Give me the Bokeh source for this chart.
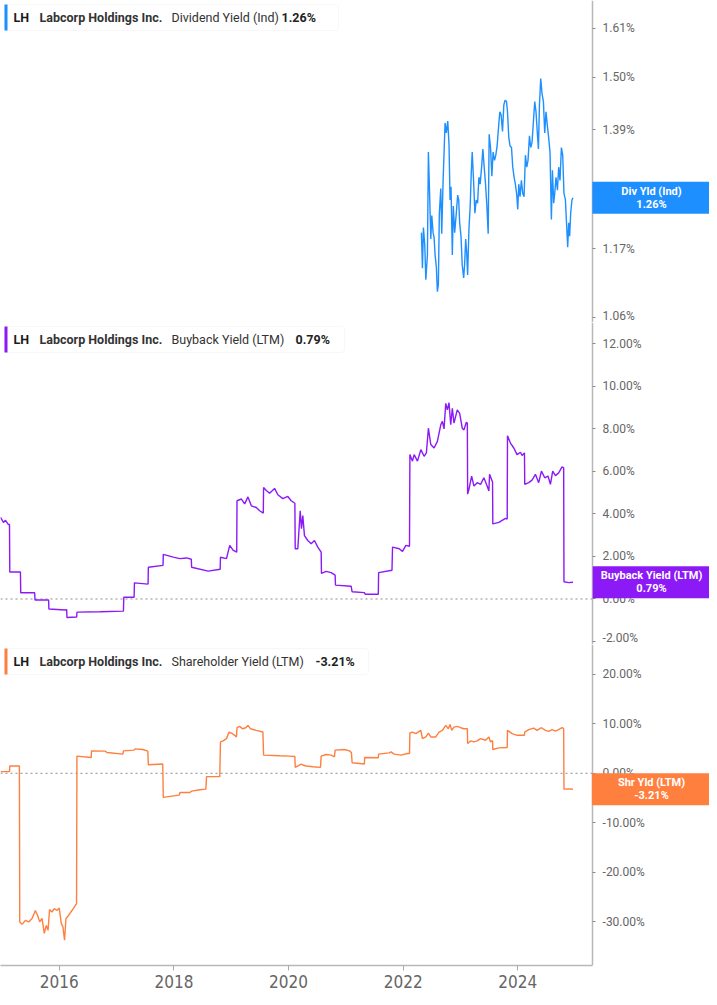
import datetime as dt
from bokeh.plotting import figure
from bokeh.layouts import column
from bokeh.models import (Range1d, FixedTicker, PrintfTickFormatter, DatetimeTickFormatter,
                          Label, BoxAnnotation)
from bokeh.embed import file_html
from bokeh.resources import INLINE

# ---------------- data (dates as decimal years, values in %) ----------------
DIV_DATES = [
    2022.318, 2022.336, 2022.353, 2022.377, 2022.395, 2022.423, 2022.440, 2022.464, 2022.482, 2022.499,
    2022.522, 2022.539, 2022.557, 2022.579, 2022.597, 2022.614, 2022.631, 2022.656, 2022.673, 2022.696,
    2022.731, 2022.753, 2022.778, 2022.800, 2022.818, 2022.835, 2022.858, 2022.875, 2022.899, 2022.927,
    2022.951, 2022.969, 2022.986, 2023.009, 2023.031, 2023.056, 2023.073, 2023.091, 2023.108, 2023.125,
    2023.148, 2023.170, 2023.188, 2023.205, 2023.230, 2023.252, 2023.275, 2023.299, 2023.322, 2023.344,
    2023.369, 2023.391, 2023.414, 2023.438, 2023.461, 2023.484, 2023.501, 2023.525, 2023.548, 2023.570,
    2023.595, 2023.617, 2023.640, 2023.664, 2023.687, 2023.710, 2023.734, 2023.757, 2023.779, 2023.804,
    2023.821, 2023.844, 2023.866, 2023.891, 2023.913, 2023.936, 2023.960, 2023.983, 2024.000, 2024.018,
    2024.040, 2024.064, 2024.087, 2024.110, 2024.134, 2024.157, 2024.179, 2024.204, 2024.226, 2024.249,
    2024.273, 2024.296, 2024.318, 2024.343, 2024.360, 2024.378, 2024.400, 2024.423, 2024.447, 2024.470,
    2024.492, 2024.517, 2024.539, 2024.562, 2024.586, 2024.604, 2024.626, 2024.644, 2024.666, 2024.691,
    2024.713, 2024.736, 2024.760, 2024.783, 2024.805, 2024.830, 2024.852, 2024.870, 2024.887, 2024.904,
    2024.922, 2024.944, 2024.962,
]
DIV_VALUES = [
    1.198, 1.138, 1.207, 1.176, 1.119, 1.160, 1.346, 1.256, 1.187, 1.228,
    1.198, 1.190, 1.160, 1.140, 1.100, 1.111, 1.232, 1.277, 1.196, 1.289,
    1.404, 1.384, 1.408, 1.361, 1.256, 1.280, 1.160, 1.245, 1.198, 1.232,
    1.265, 1.256, 1.215, 1.192, 1.143, 1.122, 1.145, 1.187, 1.165, 1.127,
    1.204, 1.245, 1.305, 1.346, 1.289, 1.232, 1.256, 1.250, 1.298, 1.285,
    1.317, 1.352, 1.317, 1.285, 1.245, 1.196, 1.381, 1.355, 1.300, 1.346,
    1.330, 1.340, 1.358, 1.394, 1.427, 1.420, 1.387, 1.441, 1.451, 1.448,
    1.427, 1.374, 1.358, 1.355, 1.317, 1.298, 1.284, 1.265, 1.239, 1.285,
    1.262, 1.292, 1.268, 1.262, 1.340, 1.317, 1.330, 1.378, 1.355, 1.365,
    1.407, 1.448, 1.427, 1.381, 1.352, 1.441, 1.497, 1.465, 1.448, 1.384,
    1.427, 1.397, 1.374, 1.346, 1.221, 1.311, 1.250, 1.268, 1.298, 1.274,
    1.317, 1.292, 1.355, 1.340, 1.268, 1.256, 1.209, 1.173, 1.215, 1.192,
    1.232, 1.256, 1.260,
]

BUY_DATES = [
    2014.974, 2015.026, 2015.061, 2015.113, 2015.131, 2015.136, 2015.322, 2015.327, 2015.571, 2015.576,
    2015.814, 2015.819, 2016.104, 2016.129, 2016.134, 2016.303, 2016.308, 2016.713, 2017.118, 2017.124,
    2017.304, 2017.310, 2017.548, 2017.553, 2017.809, 2017.814, 2017.988, 2018.104, 2018.221, 2018.303,
    2018.308, 2018.597, 2018.807, 2018.812, 2018.917, 2018.974, 2019.031, 2019.096, 2019.101, 2019.178,
    2019.235, 2019.292, 2019.351, 2019.438, 2019.496, 2019.560, 2019.565, 2019.612, 2019.670, 2019.757,
    2019.814, 2019.901, 2019.988, 2020.047, 2020.111, 2020.117, 2020.162, 2020.204, 2020.226, 2020.249,
    2020.278, 2020.336, 2020.395, 2020.452, 2020.510, 2020.569, 2020.574, 2020.656, 2020.743, 2020.812,
    2020.818, 2021.091, 2021.108, 2021.322, 2021.339, 2021.565, 2021.571, 2021.804, 2021.814, 2021.931,
    2021.988, 2022.047, 2022.110, 2022.117, 2022.162, 2022.191, 2022.249, 2022.308, 2022.365, 2022.405,
    2022.440, 2022.482, 2022.539, 2022.597, 2022.656, 2022.684, 2022.713, 2022.743, 2022.771, 2022.800,
    2022.830, 2022.858, 2022.887, 2022.944, 2022.986, 2023.031, 2023.061, 2023.101, 2023.120, 2023.125,
    2023.148, 2023.195, 2023.235, 2023.292, 2023.351, 2023.409, 2023.466, 2023.496, 2023.508, 2023.553,
    2023.560, 2023.565, 2023.670, 2023.786, 2023.816, 2023.821, 2023.873, 2023.931, 2023.988, 2024.047,
    2024.075, 2024.117, 2024.122, 2024.191, 2024.249, 2024.308, 2024.365, 2024.412, 2024.470, 2024.527,
    2024.569, 2024.609, 2024.656, 2024.713, 2024.771, 2024.800, 2024.805, 2024.887, 2024.962,
]
BUY_VALUES = [
    3.84, 3.60, 3.70, 3.50, 3.50, 1.27, 1.27, 0.29, 0.29, -0.05,
    -0.05, -0.47, -0.52, -0.50, -0.87, -0.85, -0.62, -0.60, -0.57, 0.08,
    0.08, 0.76, 0.70, 1.49, 1.58, 2.10, 1.97, 1.90, 1.93, 1.87,
    1.49, 1.31, 1.40, 1.96, 1.90, 2.52, 2.30, 2.20, 4.62, 4.70,
    4.47, 4.80, 4.38, 4.30, 4.15, 4.04, 5.24, 5.10, 4.97, 5.20,
    4.90, 4.72, 4.82, 4.62, 4.50, 2.36, 2.36, 4.15, 3.30, 3.92,
    2.98, 2.75, 2.60, 2.75, 2.44, 2.20, 1.20, 1.30, 1.24, 1.12,
    0.65, 0.60, 0.34, 0.30, 0.22, 0.22, 1.24, 1.35, 2.44, 2.36,
    2.24, 2.52, 2.48, 6.79, 6.48, 6.79, 6.48, 7.02, 6.71, 6.87,
    8.03, 7.26, 7.10, 7.41, 8.19, 8.35, 8.00, 9.20, 8.89, 9.23,
    8.19, 8.97, 8.27, 8.89, 8.73, 8.03, 7.95, 8.30, 8.27, 4.93,
    5.16, 5.78, 5.31, 5.47, 5.39, 5.70, 5.31, 5.08, 5.86, 5.55,
    5.50, 3.53, 3.60, 3.79, 3.76, 7.68, 7.33, 7.10, 6.79, 6.90,
    6.75, 6.87, 5.39, 5.47, 5.59, 5.86, 5.47, 6.01, 5.70, 5.78,
    5.39, 6.01, 5.80, 5.93, 6.21, 6.17, 0.81, 0.77, 0.79,
]

SHR_DATES = [
    2014.974, 2015.131, 2015.136, 2015.304, 2015.310, 2015.351, 2015.409, 2015.466, 2015.525, 2015.583,
    2015.623, 2015.658, 2015.699, 2015.739, 2015.774, 2015.804, 2015.831, 2015.873, 2015.913, 2015.960,
    2016.000, 2016.035, 2016.064, 2016.092, 2016.117, 2016.162, 2016.221, 2016.278, 2016.301, 2016.308,
    2016.557, 2016.562, 2016.800, 2016.830, 2017.108, 2017.118, 2017.304, 2017.322, 2017.456, 2017.543,
    2017.553, 2017.804, 2017.814, 2017.931, 2018.092, 2018.104, 2018.278, 2018.308, 2018.452, 2018.557,
    2018.569, 2018.800, 2018.812, 2018.858, 2018.917, 2018.962, 2019.004, 2019.061, 2019.091, 2019.101,
    2019.148, 2019.195, 2019.252, 2019.292, 2019.334, 2019.438, 2019.553, 2019.565, 2019.844, 2020.018,
    2020.111, 2020.117, 2020.191, 2020.221, 2020.249, 2020.308, 2020.423, 2020.557, 2020.569, 2020.656,
    2020.743, 2020.800, 2020.812, 2020.974, 2021.061, 2021.096, 2021.108, 2021.322, 2021.327, 2021.565,
    2021.571, 2021.757, 2021.786, 2021.844, 2021.960, 2022.075, 2022.110, 2022.117, 2022.162, 2022.221,
    2022.308, 2022.336, 2022.395, 2022.440, 2022.482, 2022.569, 2022.626, 2022.684, 2022.743, 2022.788,
    2022.818, 2022.847, 2022.887, 2022.944, 2023.004, 2023.061, 2023.120, 2023.125, 2023.178, 2023.235,
    2023.292, 2023.351, 2023.438, 2023.496, 2023.525, 2023.560, 2023.565, 2023.670, 2023.816, 2023.821,
    2023.901, 2023.988, 2024.117, 2024.122, 2024.191, 2024.278, 2024.336, 2024.412, 2024.482, 2024.539,
    2024.597, 2024.656, 2024.713, 2024.771, 2024.800, 2024.805, 2024.887, 2024.962,
]
SHR_VALUES = [
    0.33, 0.33, 1.47, 1.47, -30.0, -30.5, -29.7, -30.0, -29.3, -27.7,
    -28.7, -30.0, -29.3, -32.3, -30.7, -31.7, -27.5, -28.0, -27.3, -27.7,
    -27.2, -30.3, -31.0, -33.7, -29.3, -28.7, -27.7, -26.7, -26.3, 3.47,
    3.20, 4.53, 4.47, 4.20, 3.87, 4.53, 4.67, 4.93, 4.80, 4.47,
    1.73, 1.87, -4.87, -4.67, -4.40, -3.87, -3.87, -3.60, -3.33, -3.20,
    -0.67, -0.67, 6.33, 6.53, 7.00, 8.33, 8.13, 7.67, 7.33, 9.20,
    9.47, 9.00, 9.20, 9.67, 9.00, 8.67, 8.33, 3.67, 3.53, 3.47,
    3.40, 1.20, 1.67, 1.87, 1.67, 1.47, 1.33, 1.20, 3.47, 3.80,
    3.67, 3.33, 4.67, 4.80, 4.53, 4.20, 2.13, 1.87, 3.20, 3.13,
    3.87, 4.13, 4.33, 3.87, 3.67, 4.00, 4.00, 8.13, 8.33, 8.00,
    8.67, 7.00, 7.33, 8.13, 7.33, 7.33, 8.33, 8.67, 9.67, 9.00,
    9.87, 8.67, 9.33, 9.47, 9.20, 9.00, 9.00, 6.00, 6.53, 6.33,
    6.53, 7.00, 6.67, 7.33, 6.33, 6.60, 4.80, 5.13, 5.20, 8.67,
    8.00, 7.67, 7.67, 8.33, 8.80, 9.13, 8.67, 9.20, 8.67, 8.47,
    8.80, 8.53, 8.80, 9.20, 9.00, -3.20, -3.15, -3.21,
]

TICKER = "LH"
COMPANY = "Labcorp Holdings Inc."
METRICS = ["Dividend Yield (Ind)", "Buyback Yield (LTM)", "Shareholder Yield (LTM)"]
BADGE_NAMES = ["Div Yld (Ind)", "Buyback Yield (LTM)", "Shr Yld (LTM)"]
LATEST = [1.26, 0.79, -3.21]
LATEST_TEXT = ["1.26%", "0.79%", "-3.21%"]

X_TICK_YEARS = [2016, 2018, 2020, 2022, 2024]
X_START, X_END = 2014.974, 2025.304          # date span left of the value axis
Y1_TICKS = [1.06, 1.17, 1.28, 1.39, 1.50, 1.61]
Y2_TICKS = [-2, 0, 2, 4, 6, 8, 10, 12]
Y3_TICKS = [-30, -20, -10, 0, 10, 20]

# ---------------- styling / layout ----------------
COLORS = ["#1E8FFF", "#8C1AF6", "#FF7F3F"]
TOTAL_W = 709     # frame spans whole width; value axis sits inside at AXIS_X
AXIS_X = 592      # pixel position of the value axis within the frame
BADGE_CX = AXIS_X + 59
FH = [322, 322, 321]
AXIS_GRAY = "#b8b8b8"
LABEL_GRAY = "#666666"
TXT_FONT = "Roboto"


def to_dt(y):
    yr = int(y)
    start = dt.datetime(yr, 1, 1)
    end = dt.datetime(yr + 1, 1, 1)
    return start + (end - start) * (y - yr)


def to_ms(d):
    return (d - dt.datetime(1970, 1, 1)).total_seconds() * 1000.0


x_full_end = X_START + (X_END - X_START) * TOTAL_W / AXIS_X
x_range = Range1d(to_dt(X_START), to_dt(x_full_end))
axis_ms = to_ms(to_dt(X_END))
bounds_ms = (to_ms(to_dt(X_START)), axis_ms)


def make_panel(i, dates, values, y_start, y_end, ticks, log, show_x, zero_line,
               legend_box_right, value_x, badge_pad):
    fh = FH[i]
    p = figure(frame_width=TOTAL_W, frame_height=fh, x_axis_type="datetime",
               y_axis_type="log" if log else "linear", y_axis_location="right",
               x_range=x_range, y_range=Range1d(y_start, y_end),
               output_backend="svg", toolbar_location=None,
               min_border_left=0, min_border_right=0, min_border_top=0, min_border_bottom=0,
               background_fill_color="white", border_fill_color="white")
    p.outline_line_color = None
    p.grid.visible = False

    # value axis, drawn inside the frame at the end of the date span
    ya = p.yaxis[0]
    ya.fixed_location = axis_ms
    ya.ticker = FixedTicker(ticks=ticks, minor_ticks=[])
    ya.formatter = PrintfTickFormatter(format="%.2f%%")
    ya.axis_line_color = AXIS_GRAY
    ya.axis_line_width = 1.5
    ya.major_tick_out = 3
    ya.major_tick_in = 0
    ya.minor_tick_out = 0
    ya.minor_tick_in = 0
    ya.major_tick_line_color = "#8a8a8a"
    ya.major_label_standoff = 7
    ya.major_label_text_font = TXT_FONT
    ya.major_label_text_font_size = "12px"
    ya.major_label_text_color = LABEL_GRAY

    # date axis
    xa = p.xaxis[0]
    xa.bounds = bounds_ms
    xa.formatter = DatetimeTickFormatter(years="%Y", months="%Y", days="%Y", hours="%Y")
    xa.axis_line_color = AXIS_GRAY
    xa.axis_line_width = 1.5
    xa.minor_tick_out = 0
    xa.minor_tick_in = 0
    if show_x:
        xa.ticker = FixedTicker(ticks=[to_ms(dt.datetime(y, 1, 1)) for y in X_TICK_YEARS], minor_ticks=[])
        xa.major_tick_out = 5
        xa.major_tick_in = 0
        xa.major_tick_line_color = "#aaaaaa"
        xa.major_label_standoff = 4
        xa.major_label_text_font = "Liberation Sans Narrow, DejaVu Sans Condensed, sans-serif"
        xa.major_label_text_font_size = "17px"
        xa.major_label_text_color = LABEL_GRAY
    else:
        xa.ticker = FixedTicker(ticks=[], minor_ticks=[])
        xa.major_tick_out = 0
        xa.major_tick_in = 0
        xa.major_label_standoff = 0
        xa.axis_line_width = 1
        xa.axis_line_color = "#cccccc"

    if zero_line:
        p.line([to_dt(X_START), to_dt(X_END)], [0, 0], line_color="#8c8c8c",
               line_dash="2 3", line_width=1)

    p.line([to_dt(d) for d in dates], values, line_color=COLORS[i], line_width=1.4)

    # legend strip
    top = fh - 4
    bot = fh - 30
    p.add_layout(BoxAnnotation(left=4, right=legend_box_right, top=top, bottom=bot,
                               left_units="screen", right_units="screen",
                               top_units="screen", bottom_units="screen",
                               fill_color="white", fill_alpha=1.0,
                               line_color="#e4e4e4", line_width=1, border_radius=3))
    p.add_layout(BoxAnnotation(left=4, right=7, top=top, bottom=bot,
                               left_units="screen", right_units="screen",
                               top_units="screen", bottom_units="screen",
                               fill_color=COLORS[i], fill_alpha=1.0, line_color=None))
    ty = fh - 17
    parts = [(13, TICKER, "bold", "#1a1a1a"), (39, COMPANY, "bold", "#333333"),
             (171, METRICS[i], "normal", "#333333"), (value_x, LATEST_TEXT[i], "bold", "#222222")]
    for px, txt, style, col in parts:
        p.add_layout(Label(x=px, y=ty, x_units="screen", y_units="screen", text=txt,
                           text_font=TXT_FONT, text_font_size="12.5px", text_font_style=style,
                           text_color=col, text_baseline="middle", text_align="left"))

    # last-value badge on the value axis
    p.add_layout(Label(x=BADGE_CX, y=LATEST[i], x_units="screen", y_units="data",
                       text=BADGE_NAMES[i] + "\n" + LATEST_TEXT[i],
                       text_font=TXT_FONT, text_font_size="11px", text_font_style="bold",
                       text_color="white", text_align="center", text_baseline="middle",
                       text_line_height=1.0,
                       background_fill_color=COLORS[i], background_fill_alpha=1.0,
                       padding=dict(left=badge_pad, right=badge_pad, top=3, bottom=3)))
    return p


p1 = make_panel(0, DIV_DATES, DIV_VALUES, 1.052, 1.676, Y1_TICKS, True, False, False, 338, 281, 29)
p2 = make_panel(1, BUY_DATES, BUY_VALUES, -2.14, 13.0, Y2_TICKS, False, False, True, 344, 295, 8)
p3 = make_panel(2, SHR_DATES, SHR_VALUES, -38.8, 26.0, Y3_TICKS, False, True, True, 368, 315, 26)

layout = column(p1, p2, p3, spacing=0)
open("out.html", "w").write(file_html(layout, INLINE))
